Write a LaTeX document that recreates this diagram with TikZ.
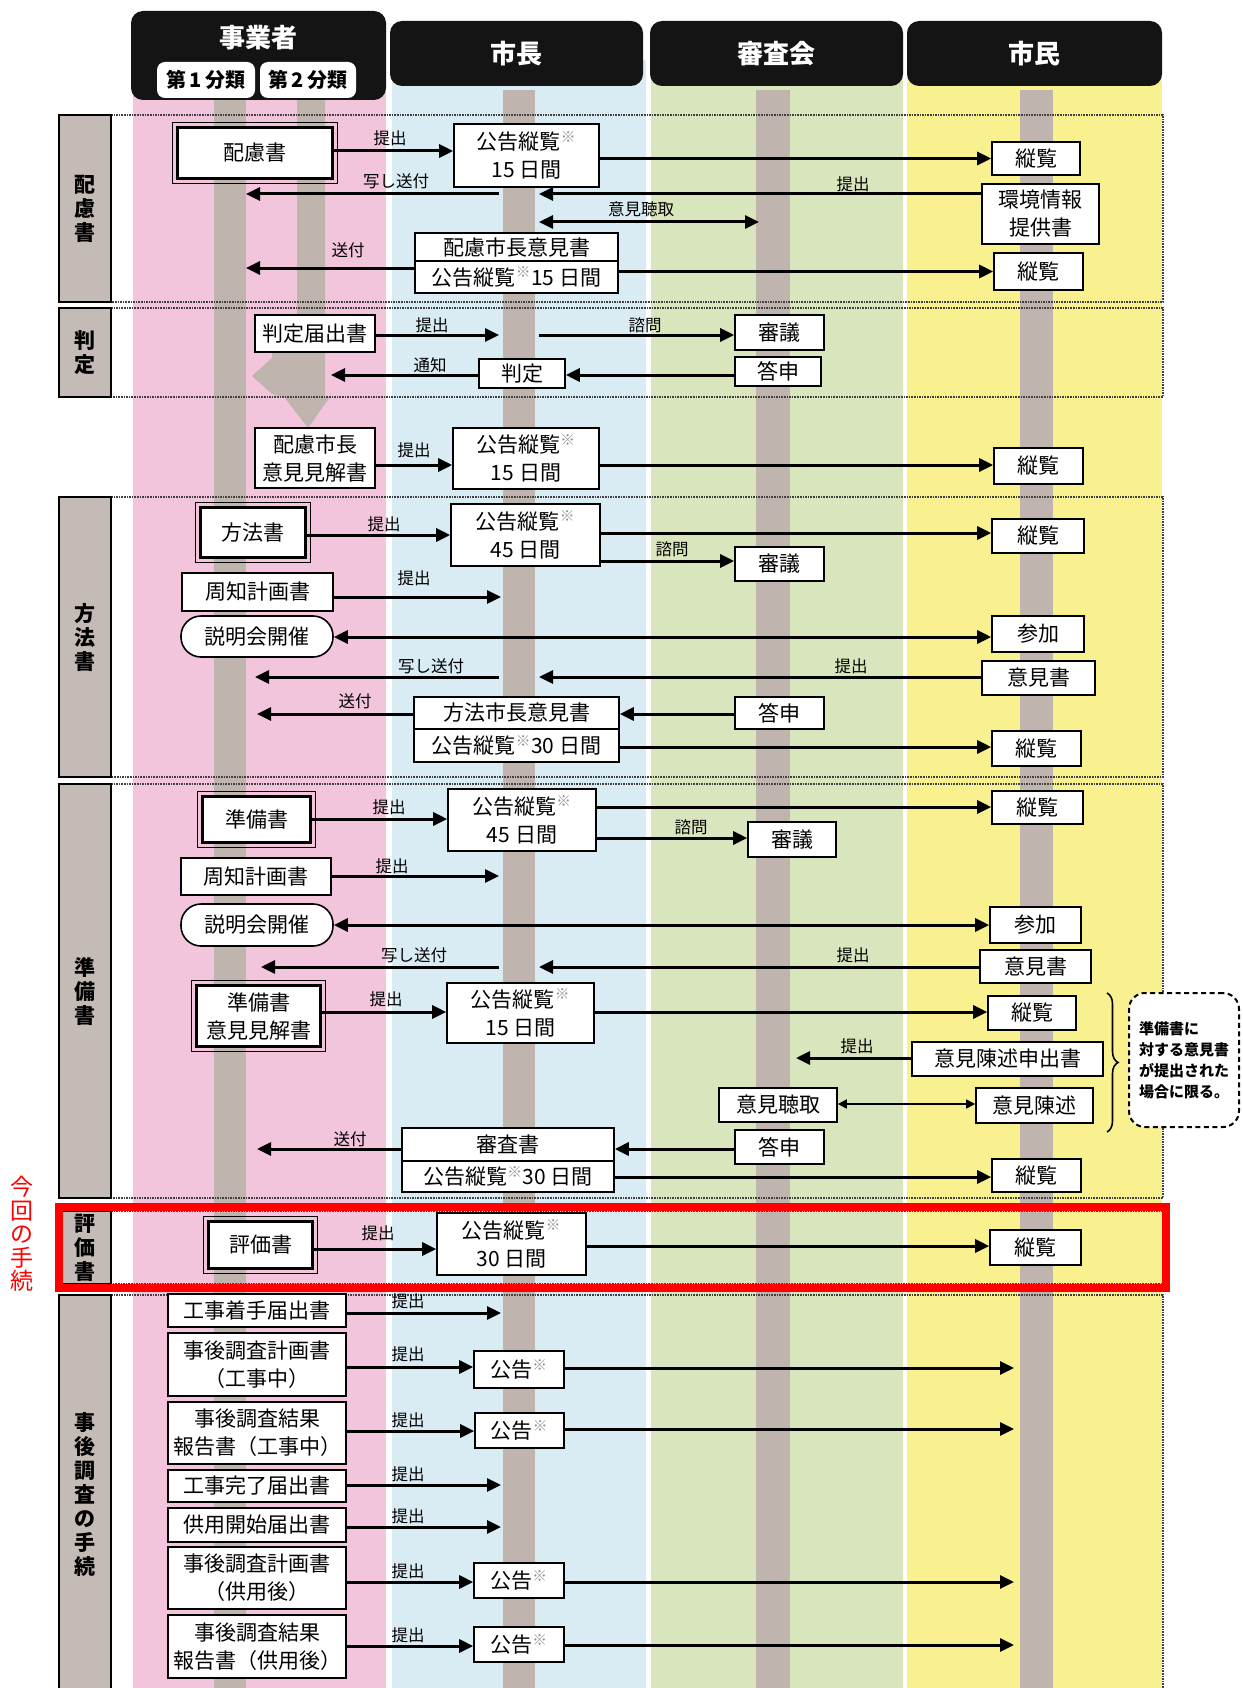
\documentclass[tikz,border=0pt]{standalone}
\usepackage{fontspec}
\setmainfont{Noto Sans CJK JP}
\usepackage{tikz}
\usetikzlibrary{arrows.meta,positioning,calc,decorations.pathreplacing}
\definecolor{colpink}{RGB}{243,197,221}
\definecolor{colblue}{RGB}{218,236,243}
\definecolor{colgreen}{RGB}{217,229,188}
\definecolor{colyellow}{RGB}{249,241,143}
\definecolor{lifegray}{RGB}{192,180,175}
\definecolor{secgray}{RGB}{196,187,183}
\newcommand\kome{\textsuperscript{\textcolor{black!45}{※}}}
\tikzset{>={Triangle[length=14pt,width=13pt]}}
\tikzset{
  docbox/.style={draw, fill=white, line width=1.6pt, inner sep=0pt, align=center, font=\fontsize{21}{28}\selectfont},
  mainbox/.style={docbox, line width=3.5pt},
  pill/.style={docbox, rounded corners=20pt},
  note/.style={draw, dashed, dash pattern=on 5pt off 3.5pt, line width=2pt, rounded corners=16pt, fill=white, inner sep=0pt, align=left, font=\bfseries\fontsize{15}{21}\selectfont},
  lbl/.style={inner sep=0pt, font=\fontsize{16.5}{16.5}\selectfont},
  arr/.style={->, line width=3pt},
  darr/.style={<->, line width=3pt},
  tarr/.style={<->, line width=1.5pt, >={Triangle[length=9pt,width=9pt]}},
  headbox/.style={fill=black!92, rounded corners=12pt},
  headtxt/.style={text=white, font=\bfseries\fontsize{26}{26}\selectfont},
  subbox/.style={fill=white, rounded corners=8pt, inner sep=0pt, font=\bfseries\fontsize{20}{20}\selectfont},
  sect/.style={draw, line width=1.2pt, fill=secgray, inner sep=0pt, align=center, font=\bfseries\fontsize{21}{24}\selectfont},
  secframe/.style={densely dotted, line width=1.6pt, black!75},
}
\begin{document}
\begin{tikzpicture}[x=1pt,y=-1pt]
\useasboundingbox (0,0) rectangle (1242,1688);
\fill[white] (0,0) rectangle (1242,1688);

% columns and lifelines
\fill[colpink] (133,60) rectangle (386,1688);
\fill[colblue] (392,60) rectangle (646,1688);
\fill[colgreen] (651,60) rectangle (903,1688);
\fill[colyellow] (907,60) rectangle (1162,1688);
\foreach \a/\b in {214/246,503/535,756/790,1020/1053}
  \fill[lifegray] (\a,90) rectangle (\b,1688);
\fill[lifegray] (297,90) -- (297,353) -- (272,353) -- (272,358) -- (252,376) -- (272,394)
  -- (284,397) -- (308,428) -- (330,397) -- (325,397) -- (325,90) -- cycle;

% headers
\node[headbox, minimum width=255pt, minimum height=89pt] (jigyo) at (258.5,55.5) {};
\node[headtxt] (jigyot) at (258.5,38) {事業者};
\node[subbox, minimum width=98pt, minimum height=36pt] (bun1) at (206,80) {第\,1\,分類};
\node[subbox, minimum width=96pt, minimum height=36pt] (bun2) at (308,80) {第\,2\,分類};
\node[headbox, headtxt, minimum width=253pt, minimum height=65pt] (shichou) at (516.5,53.5) {市長};
\node[headbox, headtxt, minimum width=253pt, minimum height=65pt] (shinsakai) at (776.5,53.5) {審査会};
\node[headbox, headtxt, minimum width=255pt, minimum height=65pt] (shimin) at (1034.5,53.5) {市民};

% sections
\draw[secframe] (111,115) -- (1163,115) -- (1163,302) -- (111,302);
\draw[secframe] (111,308) -- (1163,308) -- (1163,397) -- (111,397);
\draw[secframe] (111,497) -- (1163,497) -- (1163,777) -- (111,777);
\draw[secframe] (111,784) -- (1163,784) -- (1163,1198) -- (111,1198);
\draw[secframe] (111,1211) -- (1163,1211) -- (1163,1284) -- (111,1284);
\draw[secframe] (111,1295) -- (1163,1295) -- (1163,1688);
\node[sect, minimum width=52pt, minimum height=187pt] (s1) at (85,208.5) {配\\慮\\書};
\node[sect, minimum width=52pt, minimum height=89pt] (s2) at (85,352.5) {判\\定};
\node[sect, minimum width=52pt, minimum height=280pt] (s3) at (85,637) {方\\法\\書};
\node[sect, minimum width=52pt, minimum height=414pt] (s4) at (85,991) {準\\備\\書};
\node[sect, minimum width=52pt, minimum height=73pt] (s5) at (85,1247.5) {評\\価\\書};
\node[sect, minimum width=52pt, minimum height=400pt] (s6) at (85,1495) {事\\後\\調\\査\\の\\手\\続};

% 配慮書
\node[mainbox, minimum width=155pt, minimum height=51pt] (hairyo) at (255,153) {配慮書};
\node[docbox, minimum width=145pt, minimum height=63pt] (kk1) at (526.5,155.5) {公告縦覧\kome\\15 日間};
\node[docbox, minimum width=88pt, minimum height=33pt] (jr1) at (1036,158.5) {縦覧};
\node[docbox, minimum width=117pt, minimum height=60pt] (kj) at (1040.5,214) {環境情報\\提供書};
\node[docbox, minimum width=203pt, minimum height=28pt] (hi1) at (516.5,247) {配慮市長意見書};
\node[docbox, minimum width=203pt, minimum height=32pt] (hk1) at (516.5,277) {公告縦覧\kome 15 日間};
\node[docbox, minimum width=89pt, minimum height=37pt] (jr2) at (1038.5,271.5) {縦覧};
\coordinate (r1a) at (0,151);
\coordinate (c1a) at (499,194);
\coordinate (c1b) at (246,194);
\coordinate (c1c) at (539,194);
\coordinate (c1d) at (539,222);
\coordinate (c1e) at (759,222);
\coordinate (c1f) at (246,268);
\draw[arr] (hairyo.east |- r1a) -- (kk1.west |- r1a);
\draw[arr] (kk1.east |- jr1.west) -- (jr1.west);
\draw[arr] (c1a) -- (c1b);
\draw[arr] (kj.west |- c1c) -- (c1c);
\draw[darr] (c1d) -- (c1e);
\draw[arr] (hk1.west |- c1f) -- (c1f);
\draw[arr] (hk1.east |- jr2.west) -- (jr2.west);
\node[lbl] (t1a) at (390,138) {提出};
\node[lbl] (t1b) at (396,181) {写し送付};
\node[lbl] (t1c) at (853,184) {提出};
\node[lbl] (t1d) at (641,209) {意見聴取};
\node[lbl] (t1e) at (348,250) {送付};

% 判定
\node[docbox, minimum width=120pt, minimum height=37pt] (hte) at (315,333.5) {判定届出書};
\node[docbox, minimum width=89pt, minimum height=35pt] (shingi1) at (779.5,332.5) {審議};
\node[docbox, minimum width=86pt, minimum height=29pt] (toushin1) at (778,371.5) {答申};
\node[docbox, minimum width=86pt, minimum height=29pt] (hantei) at (522,373.5) {判定};
\coordinate (c2a) at (499,335);
\coordinate (c2b) at (539,335);
\coordinate (c2c) at (331,375);
\draw[arr] (hte.east |- c2a) -- (c2a);
\draw[arr] (c2b) -- (shingi1.west |- c2b);
\draw[arr] (toushin1.west |- c2c) -- (hantei.east |- c2c);
\draw[arr] (hantei.west |- c2c) -- (c2c);
\node[lbl] (t2a) at (432,325) {提出};
\node[lbl] (t2b) at (645,325) {諮問};
\node[lbl] (t2c) at (430,365) {通知};

\node[docbox, minimum width=120pt, minimum height=60pt] (hk2) at (315,458) {配慮市長\\意見見解書};
\node[docbox, minimum width=146pt, minimum height=61pt] (kk2) at (526,458.5) {公告縦覧\kome\\15 日間};
\node[docbox, minimum width=89pt, minimum height=36pt] (jr3) at (1038.5,466) {縦覧};
\coordinate (r3a) at (0,465);
\draw[arr] (hk2.east |- r3a) -- (kk2.west |- r3a);
\draw[arr] (kk2.east |- r3a) -- (jr3.west |- r3a);
\node[lbl] (t3a) at (414,450) {提出};

% 方法書
\node[mainbox, minimum width=105pt, minimum height=50pt] (houhou) at (253,532.5) {方法書};
\node[docbox, minimum width=149pt, minimum height=62pt] (kk3) at (525.5,535) {公告縦覧\kome\\45 日間};
\node[docbox, minimum width=92pt, minimum height=34pt] (jr4) at (1038,536) {縦覧};
\node[docbox, minimum width=89pt, minimum height=34pt] (shingi2) at (779.5,564) {審議};
\node[docbox, minimum width=151pt, minimum height=38pt] (shuuchi1) at (257.5,592) {周知計画書};
\node[pill, minimum width=152pt, minimum height=41pt] (setsu1) at (257,636.5) {説明会開催};
\node[docbox, minimum width=92pt, minimum height=36pt] (sanka1) at (1038,634) {参加};
\node[docbox, minimum width=113pt, minimum height=34pt] (iken1) at (1038.5,678) {意見書};
\node[docbox, minimum width=205pt, minimum height=32pt] (hi2) at (516.5,713) {方法市長意見書};
\node[docbox, minimum width=205pt, minimum height=33pt] (hk3) at (516.5,745.5) {公告縦覧\kome 30 日間};
\node[docbox, minimum width=89pt, minimum height=32pt] (toushin2) at (779.5,713) {答申};
\node[docbox, minimum width=89pt, minimum height=35pt] (jr5) at (1036.5,748.5) {縦覧};
\coordinate (r4a) at (0,535);
\coordinate (r4b) at (0,533);
\coordinate (r4c) at (0,561);
\coordinate (c4a) at (501,597);
\coordinate (r4d) at (0,637);
\coordinate (c4b) at (499,677);
\coordinate (c4c) at (255,677);
\coordinate (c4d) at (539,677);
\coordinate (c4e) at (257,714);
\coordinate (r4e) at (0,747);
\draw[arr] (houhou.east |- r4a) -- (kk3.west |- r4a);
\draw[arr] (kk3.east |- r4b) -- (jr4.west |- r4b);
\draw[arr] (kk3.east |- r4c) -- (shingi2.west |- r4c);
\draw[arr] (shuuchi1.east |- c4a) -- (c4a);
\draw[darr] (setsu1.east |- r4d) -- (sanka1.west |- r4d);
\draw[arr] (c4b) -- (c4c);
\draw[arr] (iken1.west |- c4d) -- (c4d);
\draw[arr] (hi2.west |- c4e) -- (c4e);
\draw[arr] (toushin2.west |- c4e) -- (hi2.east |- c4e);
\draw[arr] (hk3.east |- r4e) -- (jr5.west |- r4e);
\node[lbl] (t4a) at (384,524) {提出};
\node[lbl] (t4b) at (672,549) {諮問};
\node[lbl] (t4c) at (414,578) {提出};
\node[lbl] (t4d) at (431,666) {写し送付};
\node[lbl] (t4e) at (851,666) {提出};
\node[lbl] (t4f) at (355,701) {送付};

% 準備書
\node[mainbox, minimum width=108pt, minimum height=46pt] (junbi1) at (256.5,819.5) {準備書};
\node[docbox, minimum width=148pt, minimum height=62pt] (kk4) at (522,820) {公告縦覧\kome\\45 日間};
\node[docbox, minimum width=91pt, minimum height=33pt] (jr6) at (1037.5,807.5) {縦覧};
\node[docbox, minimum width=88pt, minimum height=35pt] (shingi3) at (792,839.5) {審議};
\node[docbox, minimum width=150pt, minimum height=37pt] (shuuchi2) at (256,876.5) {周知計画書};
\node[pill, minimum width=152pt, minimum height=42pt] (setsu2) at (257,925) {説明会開催};
\node[docbox, minimum width=91pt, minimum height=36pt] (sanka2) at (1035.5,925) {参加};
\node[docbox, minimum width=111pt, minimum height=33pt] (iken2) at (1035.5,966.5) {意見書};
\node[mainbox, minimum width=124pt, minimum height=61pt] (junbi2) at (258.5,1016) {準備書\\意見見解書};
\node[docbox, minimum width=147pt, minimum height=60pt] (kk5) at (520.5,1013) {公告縦覧\kome\\15 日間};
\node[docbox, minimum width=88pt, minimum height=34pt] (jr7) at (1032,1013) {縦覧};
\node[docbox, minimum width=191pt, minimum height=34pt] (ikms) at (1007.5,1059) {意見陳述申出書};
\node[docbox, minimum width=118pt, minimum height=34pt] (ikch) at (778,1105) {意見聴取};
\node[docbox, minimum width=117pt, minimum height=35pt] (ikjs) at (1034.5,1105.5) {意見陳述};
\node[docbox, minimum width=212pt, minimum height=33pt] (shinsa) at (508,1144.5) {審査書};
\node[docbox, minimum width=212pt, minimum height=31pt] (hk4) at (508,1176.5) {公告縦覧\kome 30 日間};
\node[docbox, minimum width=89pt, minimum height=34pt] (toushin3) at (779.5,1147) {答申};
\node[docbox, minimum width=89pt, minimum height=33pt] (jr8) at (1036.5,1175.5) {縦覧};
\node[note, minimum width=110pt, minimum height=134pt] (chuu) at (1184,1060) {準備書に\\対する意見書\\が提出された\\場合に限る。};
\coordinate (r5a) at (0,819);
\coordinate (r5b) at (0,807);
\coordinate (r5c) at (0,838);
\coordinate (c5a) at (499,876);
\coordinate (r5d) at (0,925);
\coordinate (c5b) at (499,967);
\coordinate (c5c) at (261,967);
\coordinate (c5d) at (539,967);
\coordinate (r5e) at (0,1012);
\coordinate (c5e) at (796,1058);
\coordinate (r5f) at (0,1104);
\coordinate (c5f) at (257,1149);
\coordinate (r5g) at (0,1177);
\coordinate (br1) at (1107,993);
\coordinate (br2) at (1107,1132);
\draw[arr] (junbi1.east |- r5a) -- (kk4.west |- r5a);
\draw[arr] (kk4.east |- r5b) -- (jr6.west |- r5b);
\draw[arr] (kk4.east |- r5c) -- (shingi3.west |- r5c);
\draw[arr] (shuuchi2.east |- c5a) -- (c5a);
\draw[darr] (setsu2.east |- r5d) -- (sanka2.west |- r5d);
\draw[arr] (c5b) -- (c5c);
\draw[arr] (iken2.west |- c5d) -- (c5d);
\draw[arr] (junbi2.east |- r5e) -- (kk5.west |- r5e);
\draw[arr] (kk5.east |- r5e) -- (jr7.west |- r5e);
\draw[arr] (ikms.west |- c5e) -- (c5e);
\draw[tarr] (ikch.east |- r5f) -- (ikjs.west |- r5f);
\draw[arr] (shinsa.west |- c5f) -- (c5f);
\draw[arr] (toushin3.west |- c5f) -- (shinsa.east |- c5f);
\draw[arr] (hk4.east |- r5g) -- (jr8.west |- r5g);
\draw[decorate, decoration={brace, amplitude=11pt}, line width=1.6pt] (br1) -- (br2);
\node[lbl] (t5a) at (389,807) {提出};
\node[lbl] (t5b) at (691,827) {諮問};
\node[lbl] (t5c) at (392,866) {提出};
\node[lbl] (t5d) at (414,955) {写し送付};
\node[lbl] (t5e) at (853,955) {提出};
\node[lbl] (t5f) at (386,999) {提出};
\node[lbl] (t5g) at (857,1046) {提出};
\node[lbl] (t5h) at (350,1139) {送付};

% 評価書
\node[mainbox, minimum width=104pt, minimum height=47pt] (hyouka) at (260.5,1245) {評価書};
\node[docbox, minimum width=149pt, minimum height=62pt] (kk6) at (511.5,1244) {公告縦覧\kome\\30 日間};
\node[docbox, minimum width=91pt, minimum height=35pt] (jr9) at (1035.5,1247.5) {縦覧};
\coordinate (r6a) at (0,1249);
\coordinate (r6b) at (0,1246);
\draw[arr] (hyouka.east |- r6a) -- (kk6.west |- r6a);
\draw[arr] (kk6.east |- r6b) -- (jr9.west |- r6b);
\node[lbl] (t6a) at (378,1233) {提出};

% 事後調査の手続
\node[docbox, minimum width=178pt, minimum height=33pt] (jg1) at (257,1310.5) {工事着手届出書};
\node[docbox, minimum width=178pt, minimum height=63pt] (jg2) at (257,1364.5) {事後調査計画書\\（工事中）};
\node[docbox, minimum width=90pt, minimum height=37pt] (kok1) at (519,1369.5) {公告\kome};
\node[docbox, minimum width=178pt, minimum height=62pt] (jg3) at (257,1433) {事後調査結果\\報告書（工事中）};
\node[docbox, minimum width=89pt, minimum height=35pt] (kok2) at (519.5,1430.5) {公告\kome};
\node[docbox, minimum width=178pt, minimum height=32pt] (jg4) at (257,1486) {工事完了届出書};
\node[docbox, minimum width=178pt, minimum height=34pt] (jg5) at (257,1525) {供用開始届出書};
\node[docbox, minimum width=178pt, minimum height=62pt] (jg6) at (257,1578) {事後調査計画書\\（供用後）};
\node[docbox, minimum width=90pt, minimum height=35pt] (kok3) at (519,1580.5) {公告\kome};
\node[docbox, minimum width=178pt, minimum height=63pt] (jg7) at (257,1646.5) {事後調査結果\\報告書（供用後）};
\node[docbox, minimum width=90pt, minimum height=35pt] (kok4) at (519,1644.5) {公告\kome};
\coordinate (c7a) at (501,1313);
\coordinate (r7b) at (0,1367);
\coordinate (c7b) at (1014,1368);
\coordinate (r7c) at (0,1431);
\coordinate (c7c) at (1014,1429);
\coordinate (c7d) at (501,1485);
\coordinate (c7e) at (501,1527);
\coordinate (r7f) at (0,1582);
\coordinate (c7f) at (1014,1582);
\coordinate (r7g) at (0,1646);
\coordinate (c7g) at (1014,1645);
\draw[arr] (jg1.east |- c7a) -- (c7a);
\draw[arr] (jg2.east |- r7b) -- (kok1.west |- r7b);
\draw[arr] (kok1.east |- c7b) -- (c7b);
\draw[arr] (jg3.east |- r7c) -- (kok2.west |- r7c);
\draw[arr] (kok2.east |- c7c) -- (c7c);
\draw[arr] (jg4.east |- c7d) -- (c7d);
\draw[arr] (jg5.east |- c7e) -- (c7e);
\draw[arr] (jg6.east |- r7f) -- (kok3.west |- r7f);
\draw[arr] (kok3.east |- c7f) -- (c7f);
\draw[arr] (jg7.east |- r7g) -- (kok4.west |- r7g);
\draw[arr] (kok4.east |- c7g) -- (c7g);
\foreach \y [count=\i] in {1301,1354,1420,1474,1516,1571,1635}
  \node[lbl] (t7\i) at (408,\y) {提出};

% double frames of the main documents
\foreach \n in {hairyo,houhou,junbi1,junbi2,hyouka}
  \draw[line width=1pt] ($(\n.north west)+(-3pt,3pt)$) rectangle ($(\n.south east)+(3pt,-3pt)$);

% current procedure
\draw[red, line width=8pt] (59,1207) rectangle (1166,1288);
\node[text=red, align=center, inner sep=0pt, font=\fontsize{23}{23.5}\selectfont] (konkai) at (22,1234) {今\\回\\の\\手\\続};
\end{tikzpicture}
\end{document}
